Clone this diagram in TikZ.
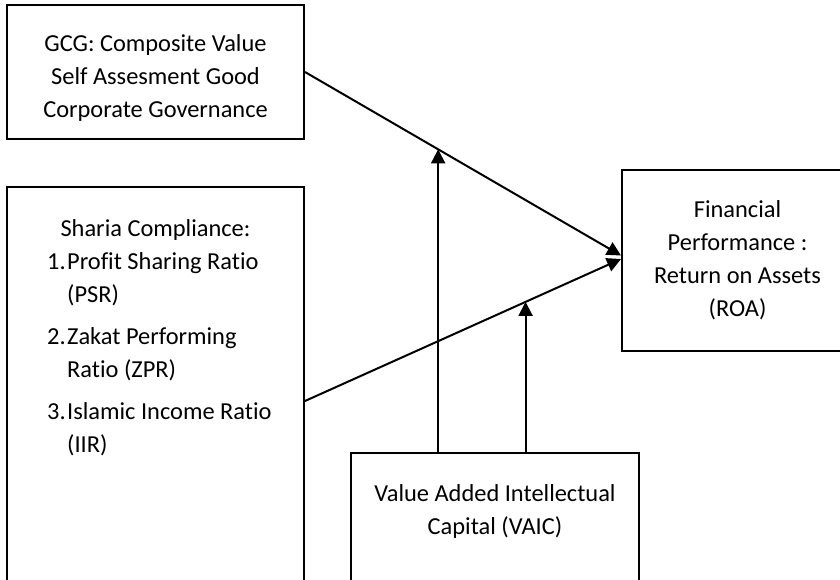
\documentclass[tikz,border=0pt]{standalone}
\usepackage{fontspec}
\setmainfont{Carlito}[Ligatures=NoCommon]
\usetikzlibrary{arrows.meta,calc}
\begin{document}
\begin{tikzpicture}[x=1pt,y=-1pt,
  box/.style={draw, line width=2pt, inner sep=0pt},
  txt/.style={inner sep=0pt, anchor=base, font=\fontsize{24.4}{33}\selectfont},
  ltxt/.style={txt, anchor=base west},
  conn/.style={line width=2pt},
  arr/.style={conn, -{Triangle[length=14pt,width=14pt]}}]
\useasboundingbox (0,0) rectangle (840,580);
\clip (0,0) rectangle (840,580);
% boxes
\node[box, minimum width=297pt, minimum height=134pt] (gcg) at (155.5,72) {};
\node[box, minimum width=297pt, minimum height=433pt] (sharia) at (155.5,403.5) {};
\node[box, minimum width=231pt, minimum height=181pt] (fin) at (737.5,260.5) {};
\node[box, minimum width=288pt, minimum height=167pt] (vaic) at (495,536.5) {};
% GCG text
\node[txt] (g1t) at (155.5,52) {GCG: Composite Value};
\node[txt] (g2t) at (155.5,85) {Self Assesment Good};
\node[txt] (g3t) at (155.5,118) {Corporate Governance};
% Sharia text
\node[txt] (s0t) at (155.5,236) {Sharia Compliance:};
\node[ltxt] (s1n) at (47,269) {1.};
\node[ltxt] (s1t) at (67,269) {Profit Sharing Ratio};
\node[ltxt] (s1u) at (67,302) {(PSR)};
\node[ltxt] (s2n) at (47,344) {2.};
\node[ltxt] (s2t) at (67,344) {Zakat Performing};
\node[ltxt] (s2u) at (67,377) {Ratio (ZPR)};
\node[ltxt] (s3n) at (47,419) {3.};
\node[ltxt] (s3t) at (67,419) {Islamic Income Ratio};
\node[ltxt] (s3u) at (67,452) {(IIR)};
% Financial text
\node[txt] (f1t) at (737.5,217) {Financial};
\node[txt] (f2t) at (737.5,250) {Performance :};
\node[txt] (f3t) at (737.5,283) {Return on Assets};
\node[txt] (f4t) at (737.5,316) {(ROA)};
% VAIC text
\node[txt] (v1t) at (495,501) {Value Added Intellectual};
\node[txt] (v2t) at (495,534) {Capital (VAIC)};
% connector points
\coordinate (gout) at (gcg.east);
\coordinate (sout) at ($(sharia.north east)+(0,215)$);
\coordinate (fin1) at ($(fin.west)+(0,-5)$);
\coordinate (fin2) at ($(fin.west)+(0,-1.5)$);
\coordinate (m1) at ($(gout)!0.4214!(fin1)$);
\coordinate (m2) at ($(sout)!0.698!(fin2)$);
% connectors
\draw[arr] (gout) -- (fin1);
\draw[arr] (sout) -- (fin2);
\draw[arr] (vaic.north -| m1) -- (m1);
\draw[arr] (vaic.north -| m2) -- (m2);
\end{tikzpicture}
\end{document}
